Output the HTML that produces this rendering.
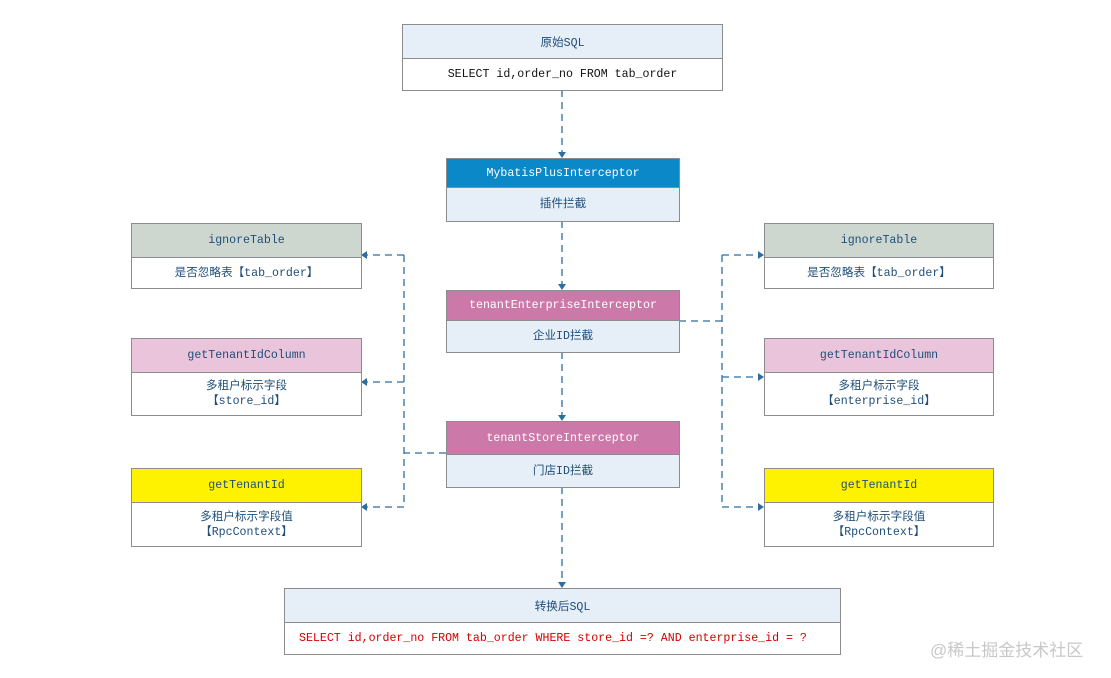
<!DOCTYPE html>
<html><head><meta charset="utf-8"><style>
body{margin:0;width:1111px;height:678px;background:#fff;position:relative;overflow:hidden;font-family:"Liberation Mono","Noto Sans CJK SC",monospace;font-size:11.6px;color:#1f4e79}
.b{position:absolute;border:1px solid #8c8c8c;background:#fff;box-sizing:border-box}
.h{border-bottom:1px solid #8c8c8c;display:flex;align-items:center;justify-content:center;box-sizing:border-box}
.c{display:flex;align-items:center;justify-content:center;text-align:center;line-height:15px;box-sizing:border-box}
svg{position:absolute;left:0;top:0}
</style></head><body>
<svg width="1111" height="678">
<g stroke="#2e6e9e" stroke-width="1.3" fill="none" stroke-dasharray="7,5">
<path d="M562 90V152"/><path d="M562 221V284"/><path d="M562 352V415"/><path d="M562 487V582"/>
<path d="M446 453H404M404 255V507M404 255H367M404 382H367M404 507H367"/>
<path d="M679 321H722M722 255V507M722 255H758M722 377H758M722 507H758"/>
</g>
<g fill="#2e6e9e">
<path d="M558 152h8l-4 6z"/><path d="M558 284h8l-4 6z"/><path d="M558 415h8l-4 6z"/><path d="M558 582h8l-4 6z"/>
<path d="M367 251v8l-6-4z"/><path d="M367 378v8l-6-4z"/><path d="M367 503v8l-6-4z"/>
<path d="M758 251v8l6-4z"/><path d="M758 373v8l6-4z"/><path d="M758 503v8l6-4z"/>
</g>
</svg>

<div class="b" style="left:402px;top:24px;width:321px;height:67px"><div class="h" style="height:34px;background:#e6eef7">原始SQL</div><div class="c" style="height:31px;color:#111">SELECT id,order_no FROM tab_order</div></div>

<div class="b" style="left:446px;top:158px;width:234px;height:64px"><div class="h" style="height:29px;background:#0a88c8;color:#fff">MybatisPlusInterceptor</div><div class="c" style="height:33px;background:#e6eef7">插件拦截</div></div>

<div class="b" style="left:446px;top:290px;width:234px;height:63px"><div class="h" style="height:30px;background:#cc79aa;color:#fff">tenantEnterpriseInterceptor</div><div class="c" style="height:31px;background:#e6eef7">企业ID拦截</div></div>

<div class="b" style="left:446px;top:421px;width:234px;height:67px"><div class="h" style="height:33px;background:#cc79aa;color:#fff">tenantStoreInterceptor</div><div class="c" style="height:32px;background:#e6eef7">门店ID拦截</div></div>

<div class="b" style="left:131px;top:223px;width:231px;height:66px"><div class="h" style="height:34px;background:#cdd7cf">ignoreTable</div><div class="c" style="height:30px">是否忽略表【tab_order】</div></div>
<div class="b" style="left:131px;top:338px;width:231px;height:78px"><div class="h" style="height:34px;background:#e9c4da">getTenantIdColumn</div><div class="c" style="height:42px">多租户标示字段<br>【store_id】</div></div>
<div class="b" style="left:131px;top:468px;width:231px;height:79px"><div class="h" style="height:34px;background:#fff200">getTenantId</div><div class="c" style="height:43px">多租户标示字段值<br>【RpcContext】</div></div>

<div class="b" style="left:764px;top:223px;width:230px;height:66px"><div class="h" style="height:34px;background:#cdd7cf">ignoreTable</div><div class="c" style="height:30px">是否忽略表【tab_order】</div></div>
<div class="b" style="left:764px;top:338px;width:230px;height:78px"><div class="h" style="height:34px;background:#e9c4da">getTenantIdColumn</div><div class="c" style="height:42px">多租户标示字段<br>【enterprise_id】</div></div>
<div class="b" style="left:764px;top:468px;width:230px;height:79px"><div class="h" style="height:34px;background:#fff200">getTenantId</div><div class="c" style="height:43px">多租户标示字段值<br>【RpcContext】</div></div>

<div class="b" style="left:284px;top:588px;width:557px;height:67px"><div class="h" style="height:34px;background:#e6eef7">转换后SQL</div><div class="c" style="height:31px;color:#d40000;justify-content:flex-start;padding-left:14px">SELECT id,order_no FROM tab_order WHERE store_id =? AND enterprise_id = ?</div></div>

<div style="position:absolute;left:930px;top:636px;font-family:'Liberation Sans','Noto Sans CJK SC',sans-serif;font-size:17px;color:#c8c8c8">@稀土掘金技术社区</div>
</body></html>
